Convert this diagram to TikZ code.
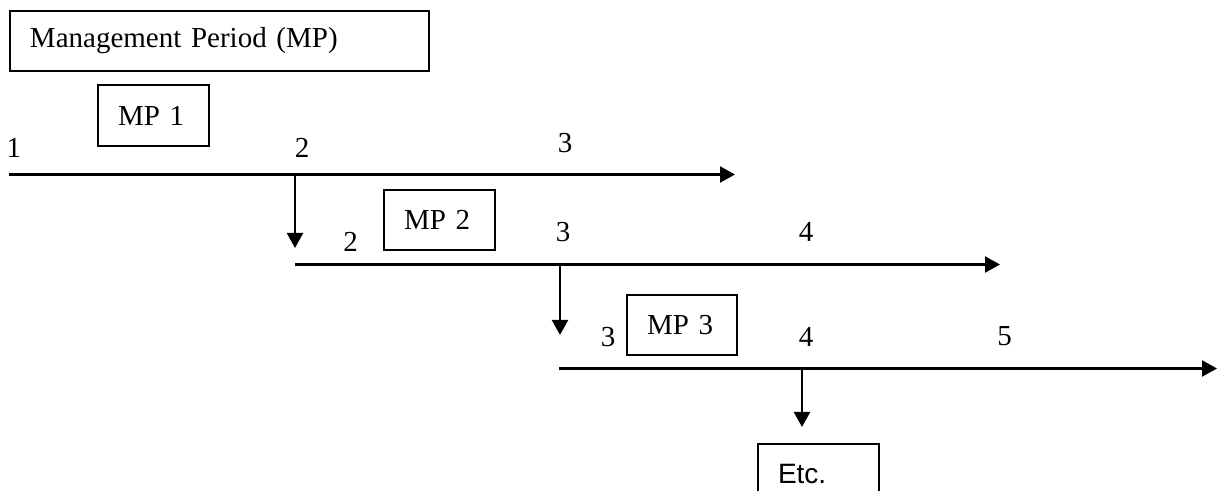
\documentclass[tikz,border=0pt]{standalone}
\usepackage{fontspec}
\setmainfont{Liberation Serif}[WordSpace=0.6]
\newfontfamily\etcfont{Liberation Sans}
\usetikzlibrary{arrows.meta}

\tikzset{
    mpbox/.style={draw, line width=1pt, anchor=north west, align=left,
        inner xsep=10pt, inner ysep=0pt, minimum height=30pt,
        font=\fontsize{14.5}{17}\selectfont},
    tick/.style={inner sep=0pt, font=\fontsize{14.5}{17}\selectfont},
    tl/.style={line width=1.1pt, -{Triangle[length=7.5pt,width=8pt]}}
}

\begin{document}
\begin{tikzpicture}[x=0.5pt, y=-0.5pt]
    \useasboundingbox (0,0) rectangle (1217,491);

    % Header
    \node[mpbox, text width=189.5pt] (mp) at (9,10) {Management Period (MP)};

    % Period 1
    \node[mpbox, text width=35.5pt, minimum height=30.5pt] (mp1) at (97,84) {MP 1};
    \node[tick] (t1a) at (14,148) {1};
    \node[tick] (t1b) at (302,148) {2};
    \node[tick] (t1c) at (565,143) {3};
    \coordinate (t1s) at (9,174.5);
    \coordinate (t1e) at (735,174.5);
    \draw[tl] (t1s) -- (t1e);
    \coordinate (d1) at (295,174.5);
    \coordinate (d1e) at (295,248);
    \draw[tl] (d1) -- (d1e);

    % Period 2
    \node[mpbox, text width=35.5pt] (mp2) at (383,189) {MP 2};
    \node[tick] (t2a) at (350.5,241.5) {2};
    \node[tick] (t2b) at (563,232) {3};
    \node[tick] (t2c) at (806,232) {4};
    \coordinate (t2s) at (295,264.5);
    \coordinate (t2e) at (1000,264.5);
    \draw[tl] (t2s) -- (t2e);
    \coordinate (d2) at (560,264.5);
    \coordinate (d2e) at (560,335);
    \draw[tl] (d2) -- (d2e);

    % Period 3
    \node[mpbox, text width=35pt] (mp3) at (626,294) {MP 3};
    \node[tick] (t3a) at (608,337) {3};
    \node[tick] (t3b) at (806,337) {4};
    \node[tick] (t3c) at (1004.5,336.5) {5};
    \coordinate (t3s) at (559,368.5);
    \coordinate (t3e) at (1217,368.5);
    \draw[tl] (t3s) -- (t3e);
    \coordinate (d3) at (802,368.5);
    \coordinate (d3e) at (802,427);
    \draw[tl] (d3) -- (d3e);

    % Etc
    \node[mpbox, text width=40.5pt, font=\etcfont\fontsize{14}{17}\selectfont] (etc) at (757,443) {Etc.};

\end{tikzpicture}
\end{document}
